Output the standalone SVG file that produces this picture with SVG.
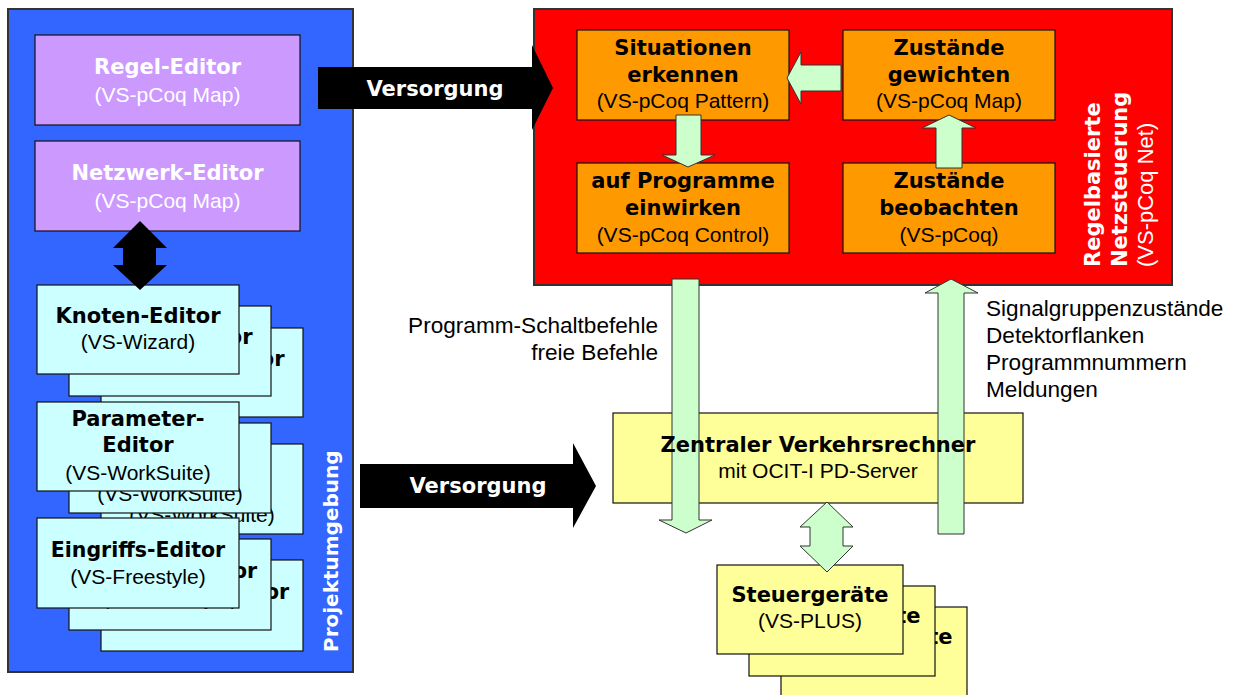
<svg xmlns="http://www.w3.org/2000/svg" width="1234" height="695" viewBox="0 0 1234 695">
<style>
.panel{stroke:#333;stroke-width:2}
.box{stroke:#111;stroke-width:1.2}
.purple{fill:#CC99FF}
.cyan{fill:#CCFFFF}
.orange{fill:#FF9900}
.yellow{fill:#FFFF99}
.t{font-family:"DejaVu Sans",sans-serif;font-weight:bold;font-size:21px;text-anchor:middle;fill:#000}
.s{font-family:"Liberation Sans",sans-serif;font-size:21px;text-anchor:middle;fill:#000}
.w{fill:#fff}
.lbl{font-family:"Liberation Sans",sans-serif;font-size:22.6px;fill:#000}
.green{fill:#CCFFCC;stroke:#333;stroke-width:1}
.black{fill:#000}
</style>

<g id="projektumgebung">
  <rect class="panel" x="8" y="9" width="345" height="663" fill="#3366FF"/>
  <text class="t w" style="text-anchor:start;font-size:20px" transform="translate(338,652) rotate(-90)">Projektumgebung</text>
</g>

<g id="regel-editor">
  <rect class="box purple" x="35" y="35" width="265" height="90"/>
  <text class="t w" x="167.5" y="74">Regel-Editor</text>
  <text class="s w" x="167.5" y="102">(VS-pCoq Map)</text>
</g>
<g id="netzwerk-editor">
  <rect class="box purple" x="35" y="141" width="265" height="90"/>
  <text class="t w" x="167.5" y="180">Netzwerk-Editor</text>
  <text class="s w" x="167.5" y="208">(VS-pCoq Map)</text>
</g>

<g id="knoten-editor">
  <rect class="box cyan" x="101" y="328" width="202" height="89"/>
  <text class="t" x="202" y="366">Knoten-Editor</text>
  <text class="s" x="202" y="392">(VS-Wizard)</text>
  <rect class="box cyan" x="69" y="306" width="202" height="90"/>
  <text class="t" x="170" y="344">Knoten-Editor</text>
  <text class="s" x="170" y="370">(VS-Wizard)</text>
  <rect class="box cyan" x="37" y="285" width="202" height="89"/>
  <text class="t" x="138" y="323">Knoten-Editor</text>
  <text class="s" x="138" y="349">(VS-Wizard)</text>
</g>

<g id="parameter-editor">
  <rect class="box cyan" x="101" y="444" width="202" height="90"/>
  <text class="t" x="202" y="468">Parameter-</text>
  <text class="t" x="202" y="494">Editor</text>
  <text class="s" x="202" y="522">(VS-WorkSuite)</text>
  <rect class="box cyan" x="69" y="423" width="202" height="90"/>
  <text class="t" x="170" y="447">Parameter-</text>
  <text class="t" x="170" y="473">Editor</text>
  <text class="s" x="170" y="501">(VS-WorkSuite)</text>
  <rect class="box cyan" x="37" y="402" width="202" height="89"/>
  <text class="t" x="138" y="426">Parameter-</text>
  <text class="t" x="138" y="452">Editor</text>
  <text class="s" x="138" y="480">(VS-WorkSuite)</text>
</g>

<g id="eingriffs-editor">
  <rect class="box cyan" x="101" y="560" width="202" height="91"/>
  <text class="t" x="202" y="599" style="font-size:20.5px">Eingriffs-Editor</text>
  <text class="s" x="202" y="626">(VS-Freestyle)</text>
  <rect class="box cyan" x="69" y="539" width="202" height="91"/>
  <text class="t" x="170" y="578" style="font-size:20.5px">Eingriffs-Editor</text>
  <text class="s" x="170" y="605">(VS-Freestyle)</text>
  <rect class="box cyan" x="37" y="518" width="202" height="90"/>
  <text class="t" x="138" y="557" style="font-size:20.5px">Eingriffs-Editor</text>
  <text class="s" x="138" y="584">(VS-Freestyle)</text>
</g>

<g id="regelbasierte-netzsteuerung">
  <rect class="panel" x="534" y="9" width="638" height="276" fill="#FF0000"/>
  <text class="t w" style="text-anchor:start" transform="translate(1100,267) rotate(-90)">Regelbasierte</text>
  <text class="t w" style="text-anchor:start" transform="translate(1127,267) rotate(-90)">Netzsteuerung</text>
  <text class="s w" style="text-anchor:start;font-size:22px" transform="translate(1153,267) rotate(-90)">(VS-pCoq Net)</text>
</g>

<g id="situationen-erkennen">
  <rect class="box orange" x="577" y="30" width="212" height="90"/>
  <text class="t" x="683" y="55">Situationen</text>
  <text class="t" x="683" y="82">erkennen</text>
  <text class="s" x="683" y="108">(VS-pCoq Pattern)</text>
</g>
<g id="zustaende-gewichten">
  <rect class="box orange" x="843" y="30" width="212" height="90"/>
  <text class="t" x="949" y="55">Zustände</text>
  <text class="t" x="949" y="82">gewichten</text>
  <text class="s" x="949" y="108">(VS-pCoq Map)</text>
</g>
<g id="auf-programme-einwirken">
  <rect class="box orange" x="577" y="163" width="212" height="90"/>
  <text class="t" x="683" y="188">auf Programme</text>
  <text class="t" x="683" y="215">einwirken</text>
  <text class="s" x="683" y="242">(VS-pCoq Control)</text>
</g>
<g id="zustaende-beobachten">
  <rect class="box orange" x="843" y="163" width="212" height="90"/>
  <text class="t" x="949" y="188">Zustände</text>
  <text class="t" x="949" y="215">beobachten</text>
  <text class="s" x="949" y="242">(VS-pCoq)</text>
</g>

<g id="zentraler-verkehrsrechner">
  <rect class="box yellow" x="613" y="413" width="410" height="90"/>
</g>

<g id="steuergeraete">
  <rect class="box yellow" x="781" y="607" width="186" height="100"/>
  <text class="t" x="874" y="644">Steuergeräte</text>
  <text class="s" x="874" y="670">(VS-PLUS)</text>
  <rect class="box yellow" x="749" y="586" width="186" height="90"/>
  <text class="t" x="842" y="623">Steuergeräte</text>
  <text class="s" x="842" y="649">(VS-PLUS)</text>
  <rect class="box yellow" x="717" y="565" width="186" height="89"/>
  <text class="t" x="810" y="602">Steuergeräte</text>
  <text class="s" x="810" y="628">(VS-PLUS)</text>
</g>

<g id="connectors">
  <polygon class="black" points="318,67 532,67 532,45 553,88 532,130 532,109 318,109"/>
  <text class="t w" x="435" y="96">Versorgung</text>
  <polygon class="black" points="360,464 573,464 573,443 596,486 573,528 573,508 360,508"/>
  <text class="t w" x="478" y="493">Versorgung</text>
  <polygon class="black" points="140,221 167,248 156,248 156,265 167,265 140,290 113,265 123,265 123,248 113,248"/>
  <polygon class="green" points="787,78 801,52 801,65 841,65 841,91 801,91 801,104"/>
  <polygon class="green" points="676,115 701,115 701,155 715,155 688,167 662,155 676,155"/>
  <polygon class="green" points="949,115 976,128 962,128 962,168 936,168 936,128 922,128"/>
  <polygon class="green" points="672,279 699,279 699,520 712,520 686,533 659,520 672,520"/>
  <polygon class="green" points="951,279 978,293 964,293 964,534 938,534 938,293 925,293"/>
  <polygon class="green" points="827,502 853,527 843,527 843,546 853,546 827,572 800,546 810,546 810,527 800,527"/>
  <text class="lbl" x="658" y="333" text-anchor="end">Programm-Schaltbefehle</text>
  <text class="lbl" x="658" y="360" text-anchor="end">freie Befehle</text>
  <text class="lbl" x="986" y="316">Signalgruppenzustände</text>
  <text class="lbl" x="986" y="343">Detektorflanken</text>
  <text class="lbl" x="986" y="370">Programmnummern</text>
  <text class="lbl" x="986" y="397">Meldungen</text>
</g>

<g id="zentraler-verkehrsrechner-label">
  <text class="t" x="818" y="452">Zentraler Verkehrsrechner</text>
  <text class="s" x="818" y="478">mit OCIT-I PD-Server</text>
</g>
</svg>
